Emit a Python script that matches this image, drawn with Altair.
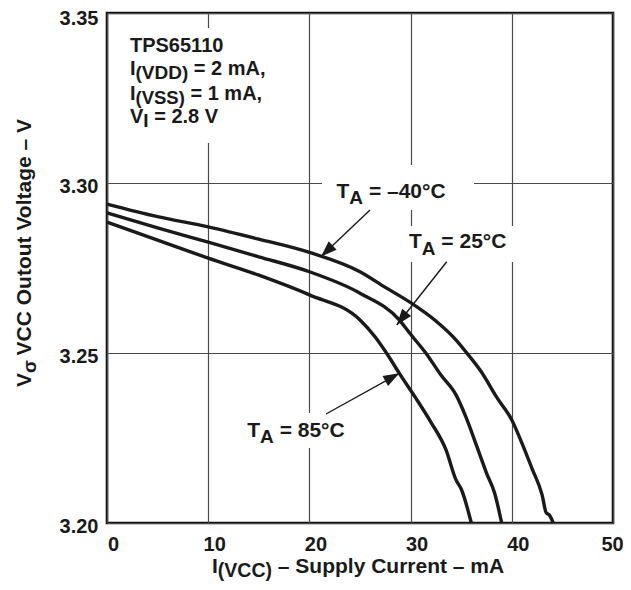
import math
import altair as alt
import pandas as pd

# ---- data ----
i_m40 = [0, 5, 10, 15, 20, 25, 27.5, 30, 32.5, 34.5, 35.5, 37, 38.5, 40, 41, 42, 43, 43.4, 43.7, 44.1]
v_m40 = [3.2938, 3.2901, 3.2871, 3.2835, 3.2796, 3.2739, 3.2693, 3.2648, 3.2594, 3.2538, 3.2502,
         3.2444, 3.2370, 3.2303, 3.2235, 3.2160, 3.2082, 3.2030, 3.2024, 3.2000]
i_25 = [0, 5, 10, 15, 20, 25, 28.9, 30, 31.5, 33, 34.5, 35.5, 36.5, 37.5, 38.3, 39.0]
v_25 = [3.2912, 3.2868, 3.2826, 3.2783, 3.2739, 3.2676, 3.2597, 3.2555, 3.2500, 3.2435, 3.2376,
        3.2309, 3.2229, 3.2147, 3.2088, 3.2000]
i_85 = [0, 5, 10, 15, 20, 25, 26.5, 27.5, 29, 30.5, 32, 33.5, 34.5, 35.0, 36.0]
v_85 = [3.2885, 3.2832, 3.2779, 3.2729, 3.2671, 3.2597, 3.2547, 3.2505, 3.2435, 3.2368, 3.2297,
        3.2215, 3.2126, 3.2100, 3.2000]
series_names = ["TA = -40°C", "TA = 25°C", "TA = 85°C"]
x_ticks = [0, 10, 20, 30, 40, 50]
y_ticks = [3.20, 3.25, 3.30, 3.35]

# ---- geometry / style ----
W, H = 506, 510
XD = [0, 50]
YD = [3.20, 3.35]
SX = W / (XD[1] - XD[0])   # px per mA
SY = H / (YD[1] - YD[0])   # px per V
FONT = "Liberation Sans"
INK = "#1a1a1a"

xs = alt.Scale(domain=XD, nice=False, zero=False)
ys = alt.Scale(domain=YD, nice=False, zero=False)

rows = []
for name, ii, vv in zip(series_names, [i_m40, i_25, i_85], [v_m40, v_25, v_85]):
    for k, (a, b) in enumerate(zip(ii, vv)):
        rows.append({"series": name, "order": k, "I": a, "V": b})
curves_df = pd.DataFrame(rows)

# Arial-bold advance widths (per 1000 em) for piecing subscripts together
AW = {' ': 278, '(': 333, ')': 333, ',': 278, '.': 278, '–': 556, '=': 584, '°': 400,
      'A': 722, 'C': 722, 'D': 722, 'I': 278, 'O': 778, 'P': 667, 'S': 667, 'T': 611, 'V': 667,
      'a': 556, 'e': 556, 'g': 611, 'l': 278, 'm': 889, 'n': 611, 'o': 611, 'p': 611, 'r': 389,
      't': 333, 'u': 611, 'y': 556, 'σ': 617}


def tw(s, fs):
    return sum(AW.get(c, 556) for c in s) / 1000.0 * fs


def split_lead(txt, fs):
    """SVG collapses leading blanks: move them into the offset instead."""
    stripped = txt.lstrip(" ")
    return stripped, tw(txt[: len(txt) - len(stripped)], fs)


# annotation anchors (mA, V) of the left/baseline of each text line
note_specs = [
    (2.27, 3.33862, 20, 19, 4, [("TPS65110", 0)]),
    (2.27, 3.33176, 20, 19, 4, [("I", 0), ("(VDD)", 1), (" = 2 mA,", 0)]),
    (2.27, 3.32441, 20, 18.5, 3.5, [("I", 0), ("(VSS)", 1), (" = 1 mA,", 0)]),
    (2.27, 3.31765, 20, 19, 4, [("V", 0), ("I", 1), (" = 2.8 V", 0)]),
    (22.68, 3.29550, 21, 19, 6, [("T", 0), ("A", 1), (" = –40°C", 0)]),
    (29.84, 3.28079, 21, 19, 6.5, [("T", 0), ("A", 1), (" = 25°C", 0)]),
    (13.86, 3.22529, 21, 19, 6, [("T", 0), ("A", 1), (" = 85°C", 0)]),
    # x-axis title, placed below the plot
    (10.375, 3.18530, 21, 19.5, 4, [("I", 0), ("(VCC)", 1), (" – Supply Current – mA", 0)]),
]

text_rows = []
for ax, ay, fm, fsub, drop, parts in note_specs:
    off = 0.0
    for txt, sub in parts:
        fs = fsub if sub else fm
        t2, lead = split_lead(txt, fs)
        off += lead
        text_rows.append({"I": ax + off / SX, "V": ay - (drop / SY if sub else 0.0), "t": t2, "fs": fs})
        off += tw(t2, fs)
text_df = pd.DataFrame(text_rows)

# rotated y-axis title
yt_anchor = (-7.51, 3.2400)
yt_parts = [("V", 0), ("σ", 1), (" VCC Outout Voltage – V", 0)]
yt_rows = []
off = 0.0
for txt, sub in yt_parts:
    fs = 19 if sub else 21
    t2, lead = split_lead(txt, fs)
    off += lead
    yt_rows.append({"I": yt_anchor[0] + (5 / SX if sub else 0.0), "V": yt_anchor[1] + off / SY, "t": t2, "fs": fs})
    off += tw(t2, fs)
yt_df = pd.DataFrame(yt_rows)

# white backgrounds behind labels (hide grid lines)
box_df = pd.DataFrame({
    "x": [1.48, 21.25, 29.45, 13.14],
    "x2": [17.29, 36.27, 40.42, 24.21],
    "y": [3.34559, 3.30529, 3.28735, 3.23235],
    "y2": [3.31176, 3.29206, 3.27676, 3.22206],
})

# arrows: start (label) -> tip (curve)
arrow_df = pd.DataFrame({
    "x0": [25.99, 33.57, 21.64],
    "y0": [3.29206, 3.27685, 3.23206],
    "x1": [21.15, 28.63, 28.88],
    "y1": [3.27838, 3.25824, 3.24403],
})
arrow_df["ang"] = [
    (math.degrees(math.atan2((r.x1 - r.x0) * SX, (r.y1 - r.y0) * SY)) + 360) % 360
    for r in arrow_df.itertuples()
]

x_axis = alt.Axis(values=x_ticks, format="d", title=None, labelFlush=False,
                  labelOffset={"condition": {"test": "datum.value == 50", "value": -1}, "value": 6},
                  labelPadding=11, ticks=False, tickSize=0, domain=False)
y_axis = alt.Axis(values=y_ticks, format=".2f", title=None, labelFlush=False,
                  labelOffset={"condition": {"test": "datum.value > 3.34", "value": 5}, "value": 3},
                  labelPadding=9, ticks=False, tickSize=0, domain=False)

boxes = alt.Chart(box_df).mark_rect(color="white").encode(
    x=alt.X("x:Q", scale=xs, axis=x_axis), x2="x2:Q",
    y=alt.Y("y:Q", scale=ys, axis=y_axis), y2="y2:Q",
)

lines = alt.Chart(curves_df).mark_line(color=INK, strokeWidth=3.4, interpolate="monotone").encode(
    x=alt.X("I:Q", scale=xs),
    y=alt.Y("V:Q", scale=ys),
    detail="series:N",
    order="order:Q",
)

arrow_lines = alt.Chart(arrow_df).mark_rule(color=INK, strokeWidth=1.4).encode(
    x=alt.X("x0:Q", scale=xs), y=alt.Y("y0:Q", scale=ys), x2="x1:Q", y2="y1:Q",
)

arrow_heads = alt.Chart(arrow_df).mark_point(
    shape="M0,0L0.36,1L-0.36,1Z", filled=True, color=INK, opacity=1, size=1024, strokeWidth=0
).encode(
    x=alt.X("x1:Q", scale=xs), y=alt.Y("y1:Q", scale=ys),
    angle=alt.Angle("ang:Q", scale=None),
)

texts = alt.Chart(text_df).mark_text(
    align="left", baseline="alphabetic", font=FONT, fontWeight="bold", color=INK
).encode(
    x=alt.X("I:Q", scale=xs), y=alt.Y("V:Q", scale=ys), text="t:N",
    size=alt.Size("fs:Q", scale=None),
)

ytitle = alt.Chart(yt_df).mark_text(
    align="left", baseline="alphabetic", font=FONT, fontWeight="bold", color=INK, angle=270
).encode(
    x=alt.X("I:Q", scale=xs), y=alt.Y("V:Q", scale=ys), text="t:N",
    size=alt.Size("fs:Q", scale=None),
)

chart = alt.layer(boxes, lines, arrow_lines, arrow_heads, texts, ytitle).properties(
    width=W, height=H,
    autosize=alt.AutoSizeParams(type="none"),
    padding={"left": 99, "top": 5, "right": 10, "bottom": 59},
    background="white",
).configure_view(
    stroke="#111111", strokeWidth=2.6
).configure_axis(
    grid=True, gridColor="#4a4a4a", gridWidth=1.2, gridOpacity=1,
    labelFont=FONT, labelFontWeight="bold", labelFontSize=20, labelColor=INK,
)

chart.save("out.html", embed_options={"renderer": "svg", "actions": False})
